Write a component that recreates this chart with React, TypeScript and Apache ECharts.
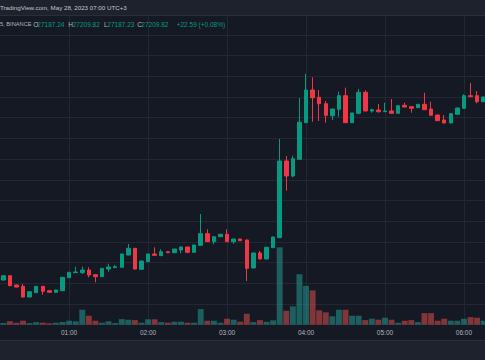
import React, { useEffect, useRef } from "react";
import * as echarts from "echarts";

// 5-minute candles from 00:10 to 06:15
const times = [
  "00:10", "00:15", "00:20", "00:25", "00:30", "00:35", "00:40", "00:45", "00:50", "00:55",
  "01:00", "01:05", "01:10", "01:15", "01:20", "01:25", "01:30", "01:35", "01:40", "01:45", "01:50", "01:55",
  "02:00", "02:05", "02:10", "02:15", "02:20", "02:25", "02:30", "02:35", "02:40", "02:45", "02:50", "02:55",
  "03:00", "03:05", "03:10", "03:15", "03:20", "03:25", "03:30", "03:35", "03:40", "03:45", "03:50", "03:55",
  "04:00", "04:05", "04:10", "04:15", "04:20", "04:25", "04:30", "04:35", "04:40", "04:45", "04:50", "04:55",
  "05:00", "05:05", "05:10", "05:15", "05:20", "05:25", "05:30", "05:35", "05:40", "05:45", "05:50", "05:55",
  "06:00", "06:05", "06:10", "06:15",
];

const opens = [
  26758.0, 26768.3, 26745.9, 26742.7, 26716.9, 26727.3, 26742.7, 26732.1, 26728.3, 26732.1,
  26763.5, 26775.6, 26775.6, 26782.1, 26770.8, 26765.9, 26784.5, 26787.7, 26788.6, 26818.3,
  26834.5, 26783.8, 26802.2, 26820.8, 26816.7, 26826.3, 26823.9, 26830.4, 26837.7, 26824.9,
  26841.8, 26869.8, 26850.5, 26862.5, 26868.4, 26850.5, 26857.0, 26854.6, 26787.0, 26823.2,
  26808.7, 26836.0, 26860.1, 27045.4, 27009.2, 27049.5, 27137.9, 27216.9, 27199.3, 27183.8,
  27154.8, 27170.3, 27203.1, 27137.9, 27160.6, 27211.4, 27166.2, 27168.6, 27164.5, 27166.2,
  27160.6, 27180.0, 27176.6, 27174.2, 27182.4, 27171.0, 27156.5, 27144.4, 27137.2, 27158.2,
  27172.7, 27203.1, 27203.1, 27188.6,
];
const closes = [
  26768.3, 26744.2, 26741.0, 26716.9, 26729.7, 26742.7, 26730.7, 26728.3, 26733.8, 26764.5,
  26776.6, 26777.3, 26782.1, 26770.0, 26765.9, 26786.2, 26789.4, 26790.1, 26820.8, 26834.5,
  26784.5, 26803.9, 26820.8, 26817.6, 26826.3, 26823.9, 26832.8, 26837.7, 26824.9, 26842.5,
  26869.8, 26850.5, 26862.5, 26868.4, 26850.5, 26857.0, 26852.9, 26786.2, 26823.2, 26808.7,
  26837.0, 26861.8, 27045.4, 27009.2, 27051.0, 27138.9, 27216.9, 27198.3, 27183.8, 27155.8,
  27171.0, 27203.1, 27137.9, 27161.4, 27211.4, 27166.2, 27169.3, 27164.5, 27166.2, 27160.6,
  27179.0, 27175.8, 27172.7, 27182.4, 27169.3, 27155.8, 27142.8, 27137.2, 27159.7, 27173.4,
  27203.1, 27200.7, 27188.6, 27200.0,
];
const lows = [
  26756.5, 26743.0, 26740.0, 26716.0, 26716.0, 26726.5, 26722.5, 26727.6, 26727.5, 26731.4,
  26762.8, 26775.0, 26772.5, 26764.5, 26752.4, 26765.2, 26778.0, 26787.0, 26788.0, 26817.6,
  26783.8, 26783.0, 26801.5, 26817.0, 26816.0, 26823.2, 26823.2, 26822.5, 26822.5, 26824.2,
  26841.0, 26849.8, 26844.2, 26861.8, 26849.8, 26845.6, 26852.2, 26755.5, 26786.3, 26808.0,
  26808.0, 26835.3, 26859.4, 26973.7, 27006.0, 27048.8, 27137.2, 27140.3, 27142.0, 27137.9,
  27144.4, 27152.4, 27137.2, 27137.2, 27160.0, 27165.5, 27162.1, 27162.1, 27163.8, 27160.0,
  27160.0, 27175.0, 27162.1, 27173.5, 27168.6, 27155.0, 27142.0, 27136.5, 27136.5, 27157.5,
  27172.0, 27200.0, 27184.8, 27188.0,
];
const highs = [
  26769.5, 26769.0, 26746.5, 26748.3, 26730.5, 26743.5, 26743.5, 26732.8, 26734.5, 26765.2,
  26777.3, 26790.1, 26790.1, 26788.6, 26771.5, 26787.0, 26797.3, 26794.2, 26821.5, 26844.9,
  26835.2, 26804.6, 26821.5, 26837.0, 26832.1, 26827.0, 26833.5, 26838.4, 26838.4, 26843.2,
  26917.4, 26880.4, 26863.2, 26869.0, 26880.4, 26857.7, 26857.7, 26855.3, 26824.0, 26828.0,
  26837.7, 26862.5, 27098.6, 27057.5, 27058.2, 27197.6, 27255.6, 27247.6, 27216.9, 27190.3,
  27171.7, 27212.8, 27222.5, 27162.0, 27219.3, 27216.2, 27171.7, 27183.1, 27186.2, 27195.2,
  27179.7, 27186.2, 27177.3, 27183.0, 27210.4, 27188.6, 27157.2, 27156.5, 27160.4, 27174.1,
  27206.5, 27233.8, 27214.5, 27200.7,
];
const volumes = [
  8, 17, 10, 20, 8, 13, 10, 7, 10, 13,
  20, 17, 75, 45, 20, 10, 17, 8, 28, 25,
  23, 10, 27, 27, 13, 10, 15, 15, 10, 10,
  78, 20, 20, 10, 30, 25, 15, 55, 13, 23,
  15, 22, 388, 70, 92, 253, 195, 172, 72, 62,
  42, 75, 75, 45, 45, 23, 30, 25, 35, 25,
  10, 20, 23, 13, 58, 58, 20, 30, 20, 20,
  30, 38, 35, 20,
];

const headerText = "TradingView.com, May 28, 2023 07:00 UTC+3";
const symbolText = "5, BINANCE";
const legendLabels = ["O", "H", "L", "C"];
const legendValues = ["27187.24", "27209.82", "27187.23", "27209.82"];
const changeText = "+22.59 (+0.08%)";

const UP = "#089981";
const DOWN = "#f23645";
const UP_VOL = "rgba(38,166,154,0.5)";
const DOWN_VOL = "rgba(239,83,80,0.5)";
const GRIDLINE = "#232733";
const FONT = "Liberation Sans";
const W = 487;

export default function App() {
  const ref = useRef<HTMLDivElement>(null);

  useEffect(() => {
    if (!ref.current) return;
    const chart = echarts.init(ref.current, null, { renderer: "svg" });

    const candleData = times.map((_, k) => [opens[k], closes[k], lows[k], highs[k]]);
    const volData = times.map((_, k) => ({
      value: volumes[k],
      itemStyle: { color: closes[k] >= opens[k] ? UP_VOL : DOWN_VOL },
    }));

    const isHour = (v: string) => v.endsWith(":00");
    const half = W / times.length / 2;

    const legendX = [
      [33.3, 37.3],
      [68.3, 72.7],
      [104, 107.3],
      [137.3, 141.3],
    ];
    const textStyle = (text: string, fill: string, size = 6.5, align = "left") => ({
      text,
      fill,
      fontSize: size,
      fontFamily: FONT,
      verticalAlign: "middle",
      align,
    });
    const legendGraphics: any[] = [];
    legendLabels.forEach((lab, i) => {
      legendGraphics.push({ type: "text", x: legendX[i][0], y: 24, z: 101, style: textStyle(lab, "#b2b5be") });
      legendGraphics.push({ type: "text", x: legendX[i][1], y: 24, z: 101, style: textStyle(legendValues[i], UP) });
    });

    chart.setOption({
      animation: false,
      backgroundColor: "#151924",
      grid: [
        { left: 0, right: 0, top: 14.2, bottom: 35.3 },
        { left: 0, right: 0, top: 225, bottom: 35.3 },
        { left: half, right: half, top: 14.2, bottom: 35.3 },
      ],
      xAxis: [
        {
          type: "category",
          gridIndex: 0,
          data: times,
          boundaryGap: true,
          axisLine: { show: false },
          axisTick: { show: false },
          axisLabel: {
            interval: (_i: number, v: string) => isHour(v),
            color: "#b2b5be",
            fontSize: 6.5,
            fontFamily: FONT,
            margin: 4,
          },
          splitLine: { show: false },
        },
        {
          type: "category",
          gridIndex: 1,
          data: times,
          boundaryGap: true,
          show: false,
        },
        {
          type: "category",
          gridIndex: 2,
          data: times,
          boundaryGap: false,
          axisLine: { show: false },
          axisTick: { show: false },
          axisLabel: { show: false },
          splitLine: {
            show: true,
            interval: (_i: number, v: string) => isHour(v),
            lineStyle: { color: GRIDLINE, width: 1 },
          },
        },
      ],
      yAxis: [
        {
          type: "value",
          gridIndex: 0,
          min: 26650,
          max: 27400,
          interval: 50,
          axisLabel: { show: false },
          axisLine: { show: false },
          axisTick: { show: false },
          splitLine: { show: true, lineStyle: { color: GRIDLINE, width: 1 } },
        },
        {
          type: "value",
          gridIndex: 1,
          min: 0,
          max: 500,
          show: false,
          splitLine: { show: false },
        },
        {
          type: "value",
          gridIndex: 2,
          min: 0,
          max: 1,
          show: false,
          splitLine: { show: false },
        },
      ],
      series: [
        {
          type: "bar",
          xAxisIndex: 1,
          yAxisIndex: 1,
          data: volData,
          barWidth: "90%",
          z: 1,
        },
        {
          type: "candlestick",
          xAxisIndex: 0,
          yAxisIndex: 0,
          data: candleData,
          barWidth: 4,
          z: 2,
          itemStyle: {
            color: UP,
            color0: DOWN,
            borderColor: UP,
            borderColor0: DOWN,
            borderWidth: 1,
          },
        },
      ],
      graphic: [
        { type: "rect", z: 100, shape: { x: 0, y: 0, width: W, height: 15 }, style: { fill: "#1e222d" } },
        { type: "line", z: 100, shape: { x1: 0, y1: 15.5, x2: W, y2: 15.5 }, style: { stroke: "#2a2e39", lineWidth: 1 } },
        { type: "text", x: 0, y: 7.5, z: 101, style: textStyle(headerText, "#c3c6ce", 6.2) },
        { type: "text", x: 0, y: 24, z: 101, style: textStyle(symbolText, "#b2b5be", 5.7) },
        ...legendGraphics,
        { type: "text", x: 176.7, y: 24, z: 101, style: textStyle(changeText, UP) },
        { type: "rect", z: 100, shape: { x: 0, y: 340, width: W, height: 20 }, style: { fill: "#1e222d" } },
        { type: "line", z: 100, shape: { x1: 0, y1: 340.5, x2: W, y2: 340.5 }, style: { stroke: "#2a2e39", lineWidth: 1 } },
      ],
    });

    return () => chart.dispose();
  }, []);

  return (
    <div style={{ position: "fixed", left: 0, top: 0, width: 485, height: 360, overflow: "hidden" }}>
      <div ref={ref} style={{ position: "absolute", left: 0, top: 0, width: W, height: 360 }} />
    </div>
  );
}
